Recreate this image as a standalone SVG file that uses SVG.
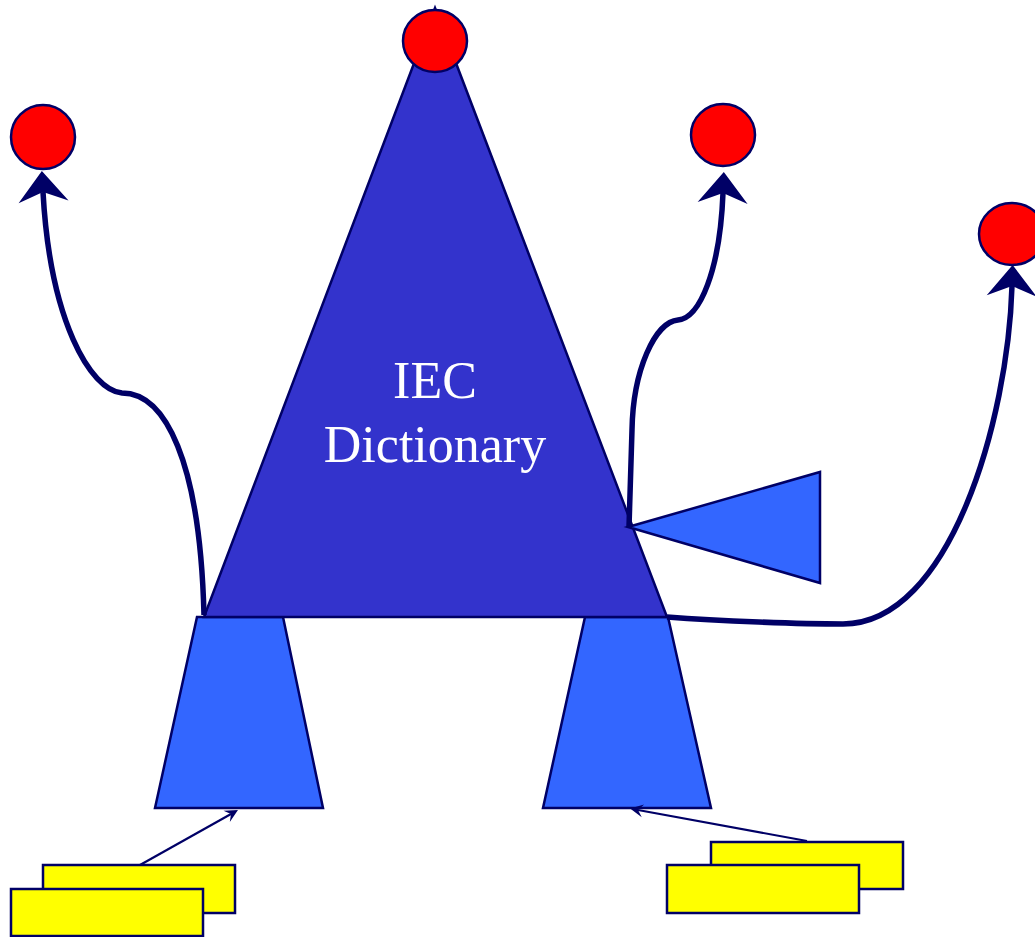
<svg xmlns="http://www.w3.org/2000/svg" width="1035" height="937" viewBox="0 0 1035 937">
<style>
.main{fill:#3333CC;stroke:#000066;stroke-width:2.5}
.part{fill:#3366FF;stroke:#000066;stroke-width:2.5}
.dot{fill:#FF0000;stroke:#000066;stroke-width:2.5}
.doc{fill:#FFFF00;stroke:#000066;stroke-width:2.5}
.thick{fill:none;stroke:#000066;stroke-width:5.5;marker-end:url(#big)}
.thin{fill:none;stroke:#000066;stroke-width:2.2;marker-end:url(#small)}
.lbl{font-family:"Liberation Serif","Times New Roman",serif;font-size:52px;fill:#FFFFFF;text-anchor:middle}
</style>
<defs>
<marker id="big" markerUnits="userSpaceOnUse" viewBox="-12 -27 36 54" markerWidth="36" markerHeight="54" refX="0" refY="0" orient="auto" overflow="visible">
<path d="M21 0 L-10 -25 L0 0 L-10 25 Z" fill="#000066"/>
</marker>
<marker id="small" markerUnits="userSpaceOnUse" viewBox="-7 -8 18 16" markerWidth="18" markerHeight="16" refX="0" refY="0" orient="auto" overflow="visible">
<path d="M8 0 L-5 -6.5 L0 0 L-5 6.5 Z" fill="#000066"/>
</marker>
</defs>
<rect width="1035" height="937" fill="#FFFFFF"/>
<g id="leg-left"><polygon class="part" points="197,617 283,617 323,808 155,808"/></g>
<g id="leg-right"><polygon class="part" points="585,617 668,617 711,808 543,808"/></g>
<g id="dictionary">
<polygon class="main" points="435,8 667,617 204,617"/>
<text class="lbl" x="435" y="398">IEC</text>
<text class="lbl" x="435" y="462">Dictionary</text>
</g>
<g id="side-triangle"><polygon class="part" points="628,527 820,472 820,583"/></g>
<g id="docs-left">
<rect class="doc" x="43" y="865" width="192" height="48"/>
<rect class="doc" x="11" y="889" width="192" height="47"/>
</g>
<g id="docs-right">
<rect class="doc" x="711" y="842" width="192" height="47"/>
<rect class="doc" x="667" y="865" width="192" height="48"/>
</g>
<g id="connectors">
<path class="thick" d="M204 615 C200 460 165 393 122 393 C90 390 50 320 43 192"/>
<path class="thick" d="M629 527 L632 430 C633 370 655 322 678 320 C700 318 720 270 723 193"/>
<path class="thick" d="M667 617 C720 621 800 624 843 624 C950 624 1008 420 1012 286"/>
<path class="thin" d="M140 865 L231 814"/>
<path class="thin" d="M807 841 L638 810"/>
</g>
<g id="dot-top"><ellipse class="dot" cx="435" cy="41" rx="32" ry="31"/></g>
<g id="dot-left"><ellipse class="dot" cx="43" cy="137" rx="32" ry="32"/></g>
<g id="dot-right1"><ellipse class="dot" cx="723" cy="135" rx="32" ry="31"/></g>
<g id="dot-right2"><ellipse class="dot" cx="1012" cy="234" rx="33" ry="31"/></g>
</svg>
